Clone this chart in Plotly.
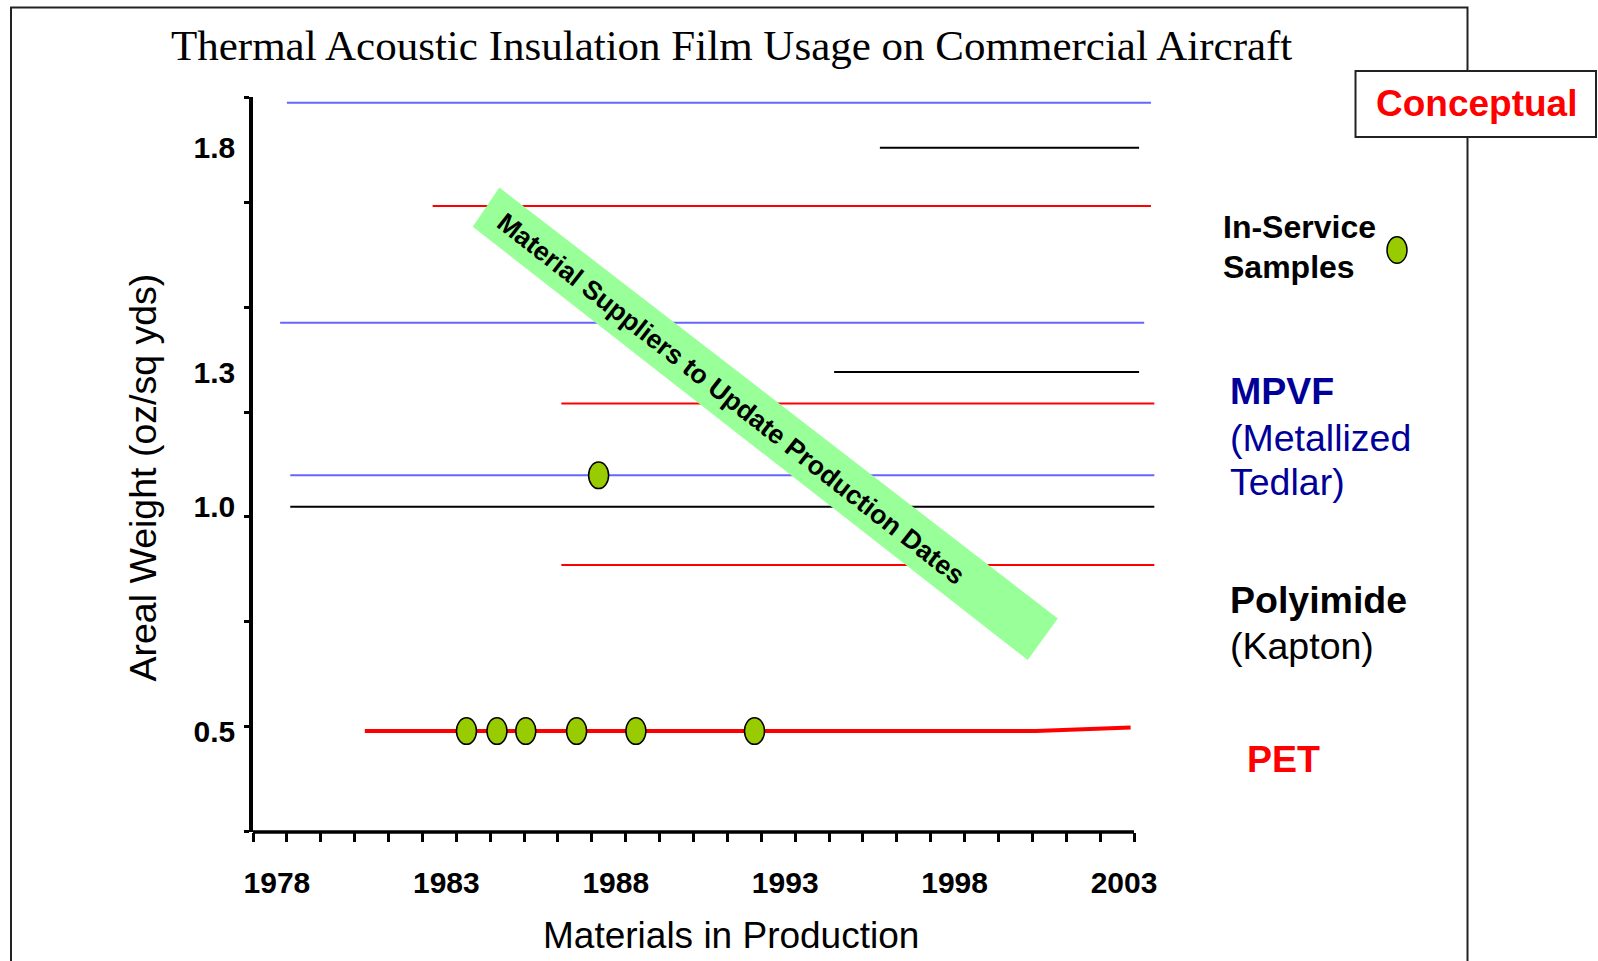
import numpy as np
import plotly.graph_objects as go

# ---------------- data ----------------
years = list(range(1978, 2004))                    # production-year categories
year_labels = [1978, 1983, 1988, 1993, 1998, 2003]
weight_ticks = [1.8, 1.3, 1.0, 0.5]                # areal weight, oz/sq yd

# MPVF (metallized Tedlar) films: weight, first and last production year
mpvf_weight = [1.90, 1.41, 1.07]
mpvf_start = [1978.5, 1978.3, 1978.6]
mpvf_end = [2004.0, 2003.8, 2004.1]

# Polyimide (Kapton) films
polyimide_weight = [1.80, 1.30, 1.00]
polyimide_start = [1996.0, 1994.65, 1978.6]
polyimide_end = [2003.65, 2003.65, 2004.1]

# heavier PET films
pet_heavy_weight = [1.67, 1.23, 0.87]
pet_heavy_start = [1982.8, 1986.6, 1986.6]
pet_heavy_end = [2004.0, 2004.1, 2004.1]

# standard PET film
pet_years = [1980.8, 2000.6, 2003.4]
pet_weight = [0.50, 0.50, 0.508]

# in-service samples
sample_years = [1983.8, 1984.7, 1985.55, 1987.05, 1988.8, 1992.3, 1987.7]
sample_weight = [0.50, 0.50, 0.50, 0.50, 0.50, 0.50, 1.07]

# ---------------- layout geometry ----------------
W, H = 1598, 961
ML, MR, MT, MB = 253, 438, 97, 129
PW, PH = W - ML - MR, H - MT - MB
AXIS_END_PX = 1134                      # right end of the drawn time axis

x_lo = years[0] - 0.5
x_axis_hi = years[-1] + 0.5
px_per_year = (AXIS_END_PX - ML) / (x_axis_hi - x_lo)
x_hi = x_lo + PW / px_per_year
Y_RANGE = [0.275, 1.913]

SANS = "Liberation Sans, Arial, sans-serif"
SERIF = "Liberation Serif, Times New Roman, serif"
BLUE_LINE = "#6666ff"
NAVY = "#000099"
RED = "#ff0000"
GREEN_DOT = "#99cc00"


def px(x):
    return (x - ML) / PW


def py(y):
    return (H - MB - y) / PH


def segments(starts, ends, weights):
    xs, ys = [], []
    for s, e, w in zip(starts, ends, weights):
        xs += [s, e, None]
        ys += [w, w, None]
    return xs, ys


fig = go.Figure()

for starts, ends, weights, color, name in [
    (mpvf_start, mpvf_end, mpvf_weight, BLUE_LINE, "MPVF"),
    (polyimide_start, polyimide_end, polyimide_weight, "black", "Polyimide"),
    (pet_heavy_start, pet_heavy_end, pet_heavy_weight, RED, "PET"),
]:
    xs, ys = segments(starts, ends, weights)
    fig.add_trace(go.Scatter(x=xs, y=ys, mode="lines", name=name,
                             line=dict(color=color, width=2), showlegend=False))

fig.add_trace(go.Scatter(x=pet_years, y=pet_weight, mode="lines", name="PET",
                         line=dict(color=RED, width=4), showlegend=False))

shapes = []
# outer frame of the slide
shapes.append(dict(type="rect", xref="paper", yref="paper",
                   x0=px(11), x1=px(1467.5), y0=py(7.5), y1=py(1000),
                   line=dict(color="#222222", width=2), fillcolor="rgba(0,0,0,0)"))
# "Conceptual" box
shapes.append(dict(type="rect", xref="paper", yref="paper",
                   x0=px(1355.5), x1=px(1596), y0=py(71), y1=py(137),
                   line=dict(color="#222222", width=2), fillcolor="white"))
# time axis line
shapes.append(dict(type="line", xref="x", yref="paper", x0=x_lo, x1=x_axis_hi,
                   y0=0, y1=0, line=dict(color="black", width=3.5)))
# diagonal banner
corners = [(472.7, 226.7), (499.4, 187.5), (1057.8, 618.6), (1027.7, 660.0)]
path = "M " + " L ".join(f"{px(cx):.5f},{py(cy):.5f}" for cx, cy in corners) + " Z"
shapes.append(dict(type="path", xref="paper", yref="paper", path=path,
                   fillcolor="#99ff99", line=dict(width=0)))
# in-service sample ellipses
for yr, wt in zip(sample_years, sample_weight):
    shapes.append(dict(type="circle", xref="x", yref="y",
                       xsizemode="pixel", ysizemode="pixel",
                       xanchor=yr, yanchor=wt, x0=-10, x1=10, y0=-13.3, y1=13.3,
                       fillcolor=GREEN_DOT, line=dict(color="black", width=1.5)))
# legend ellipse
shapes.append(dict(type="circle", xref="paper", yref="paper",
                   x0=px(1387), x1=px(1407), y0=py(236.7), y1=py(263.3),
                   fillcolor=GREEN_DOT, line=dict(color="black", width=1.5)))

annotations = []


def label(text, x, y, size, color="black", bold=False, family=SANS,
          xanchor="left", angle=0):
    annotations.append(dict(
        text=text, xref="paper", yref="paper", x=px(x), y=py(y),
        xanchor=xanchor, yanchor="middle", showarrow=False, textangle=angle,
        font=dict(family=family, size=size, color=color,
                  weight="bold" if bold else "normal")))


label("Thermal Acoustic Insulation Film Usage on Commercial Aircraft",
      731.5, 45.5, 43, family=SERIF, xanchor="center")
label("Areal Weight (oz/sq yds)", 142, 477.5, 37.5, xanchor="center", angle=-90)
label("Materials in Production", 731, 935.8, 37, xanchor="center")
label("Conceptual", 1476.8, 104, 37, color=RED, bold=True, xanchor="center")
label("In-Service", 1221, 227, 32, bold=True)
label("Samples", 1221, 266.5, 32, bold=True)
label("MPVF", 1228, 391.5, 37.5, color=NAVY, bold=True)
label("(Metallized", 1228, 437.5, 37.5, color=NAVY)
label("Tedlar)", 1228, 482, 37.5, color=NAVY)
label("Polyimide", 1228, 600, 37.5, bold=True)
label("(Kapton)", 1228, 646, 37.5)
label("PET", 1245, 759.2, 37.5, color=RED, bold=True)
label("Material Suppliers to Update Production Dates", 731.5, 398.5, 26.5,
      bold=True, xanchor="center", angle=38)

tick_font = dict(family=SANS, size=30, color="black", weight="bold")

fig.update_layout(
    width=W, height=H, autosize=False,
    margin=dict(l=ML, r=MR, t=MT, b=MB, pad=0),
    paper_bgcolor="white", plot_bgcolor="white",
    showlegend=False,
    shapes=shapes, annotations=annotations,
    xaxis=dict(
        range=[x_lo, x_hi], showline=False, showgrid=False, zeroline=False,
        tickmode="array", tickvals=year_labels,
        ticktext=[str(v) for v in year_labels], ticks="",
        tickfont=tick_font, ticklabelshift=7, ticklabelstandoff=30,
        minor=dict(tickmode="array",
                   tickvals=[y - 0.5 for y in years] + [x_axis_hi],
                   ticks="outside", ticklen=9, tickwidth=3, tickcolor="black",
                   showgrid=False),
    ),
    yaxis=dict(
        range=Y_RANGE, showline=True, linewidth=3.5, linecolor="black",
        showgrid=False, zeroline=False,
        tickmode="array", tickvals=weight_ticks,
        ticktext=[f"{v:.1f}" for v in weight_ticks], ticks="",
        tickfont=tick_font, ticklabelstandoff=8,
        minor=dict(tickmode="array",
                   tickvals=list(np.linspace(Y_RANGE[0] + 0.0005, Y_RANGE[1] - 0.0005, 8)),
                   ticks="outside", ticklen=5, tickwidth=3, tickcolor="black",
                   showgrid=False),
    ),
)

fig.write_html("out.html")
